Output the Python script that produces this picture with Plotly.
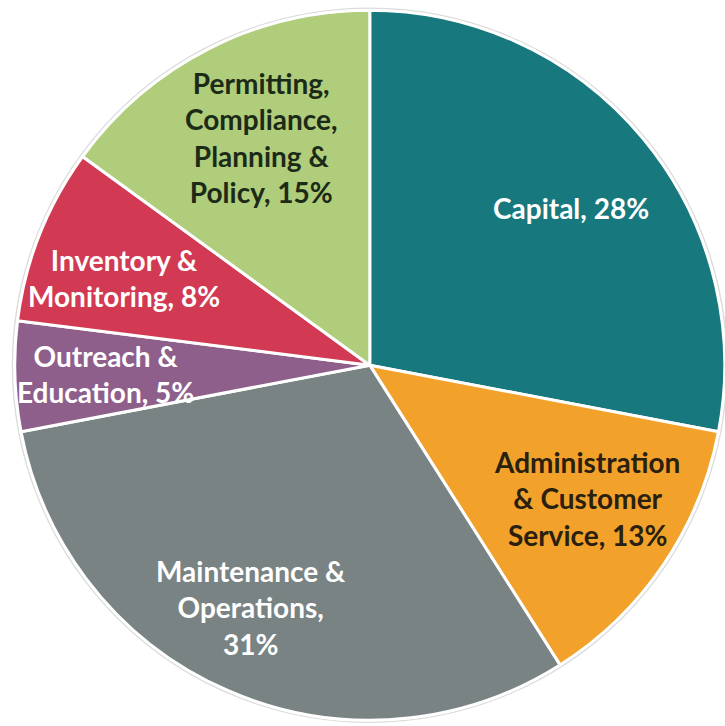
import plotly.graph_objects as go

categories = ["Capital", "Administration & Customer Service", "Maintenance & Operations",
              "Outreach & Education", "Inventory & Monitoring",
              "Permitting, Compliance, Planning & Policy"]
values = [28, 13, 31, 5, 8, 15]
label_text = ["Capital, 28%",
              "Administration<br>& Customer<br>Service, 13%",
              "Maintenance &<br>Operations,<br>31%",
              "Outreach &<br>Education, 5%",
              "Inventory &<br>Monitoring, 8%",
              "Permitting,<br>Compliance,<br>Planning &<br>Policy, 15%"]
colors = ["#17797d", "#f2a22a", "#7a8384", "#8e5f8b", "#d13a52", "#afcd7a"]
text_colors = ["#ffffff", "#2a2010", "#ffffff", "#ffffff", "#ffffff", "#1c2a18"]
# label anchor positions in paper coordinates (x, y)
label_pos = [(0.788, 0.7135), (0.810, 0.314), (0.346, 0.163), (0.146, 0.485), (0.171, 0.617), (0.361, 0.810)]

W, H = 725, 726
fig = go.Figure(go.Pie(
    labels=categories, values=values, sort=False, direction="clockwise", rotation=0,
    marker=dict(colors=colors, line=dict(color="white", width=3)),
    textinfo="none", hoverinfo="label+percent", showlegend=False,
    domain=dict(x=[0.02, 1.0], y=[0.008, 0.986]),
))

for txt, (x, y), c in zip(label_text, label_pos, text_colors):
    fig.add_annotation(x=x, y=y, xref="paper", yref="paper", text=txt, showarrow=False,
                       font=dict(family="Lato", size=28, color=c, weight="bold"),
                       align="center", xanchor="center", yanchor="middle")

fig.add_shape(type="circle", xref="paper", yref="paper",
              x0=0.02 - 2/W, x1=1.0 + 2/W, y0=0.008 - 2/H, y1=0.986 + 2/H,
              line=dict(color="#dcdcdc", width=1.5), layer="below")

fig.update_layout(width=W, height=H, margin=dict(l=0, r=0, t=0, b=0),
                  paper_bgcolor="white", plot_bgcolor="white")
fig.write_html("out.html", config={"displayModeBar": False},
               post_script="document.body.style.margin='0';document.body.style.overflow='hidden';")
